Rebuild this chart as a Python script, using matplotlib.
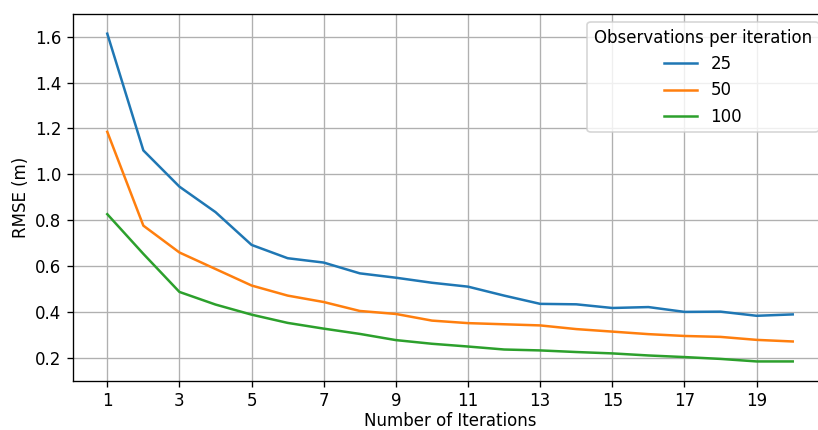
import matplotlib
matplotlib.use('Agg')
import matplotlib.pyplot as plt

# Iteration number and RMSE per number of observations
iterations = list(range(1, 21))
rmse_25 = [1.613, 1.104, 0.946, 0.835, 0.692, 0.634, 0.615, 0.568, 0.549, 0.527,
           0.510, 0.471, 0.435, 0.433, 0.417, 0.421, 0.400, 0.401, 0.383, 0.389]
rmse_50 = [1.185, 0.776, 0.659, 0.587, 0.515, 0.471, 0.443, 0.404, 0.391, 0.362,
           0.351, 0.346, 0.341, 0.325, 0.314, 0.303, 0.295, 0.291, 0.278, 0.271]
rmse_100 = [0.826, 0.653, 0.487, 0.432, 0.388, 0.352, 0.327, 0.304, 0.277, 0.261,
            0.249, 0.236, 0.232, 0.225, 0.219, 0.210, 0.203, 0.195, 0.184, 0.184]
labels = ['25', '50', '100']

fig = plt.figure(figsize=(818 / 120, 430 / 120), dpi=120)
ax = fig.add_axes([73 / 818, 49.3 / 430, 754 / 818, 367 / 430])

for y, lab in zip([rmse_25, rmse_50, rmse_100], labels):
    ax.plot(iterations, y, label=lab)

ax.set_xticks(range(1, 21, 2))
ax.set_ylim(0.1, 1.7)
ax.grid(True)
ax.set_xlabel('Number of Iterations', labelpad=1)
ax.set_ylabel('RMSE (m)', labelpad=3)
ax.legend(title='Observations per iteration', loc='upper right')

fig.savefig('out.png', dpi=120)
